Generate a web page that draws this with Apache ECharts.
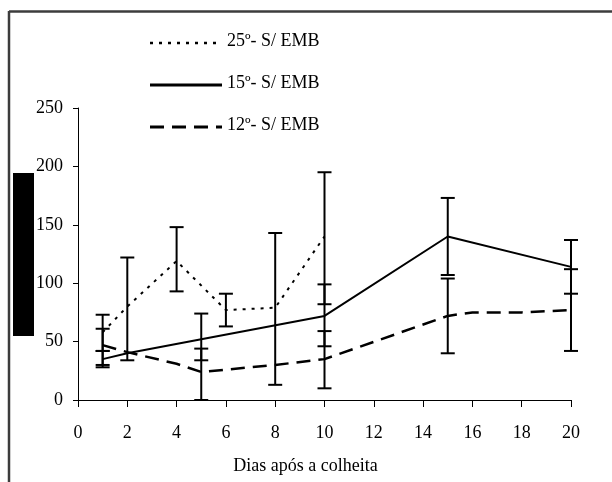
<!DOCTYPE html>
<html>
<head>
<meta charset="utf-8">
<script src="https://cdn.jsdelivr.net/npm/echarts@6/dist/echarts.min.js"></script>
<style>
html,body{margin:0;padding:0;background:#fff;}
#c{width:612px;height:482px;}
</style>
</head>
<body>
<div id="c"></div>
<script>
// ---- data ----
var xTicks = [0, 2, 4, 6, 8, 10, 12, 14, 16, 18, 20];
var yTicks = [0, 50, 100, 150, 200, 250];
var seriesNames = ['25º- S/ EMB', '15º- S/ EMB', '12º- S/ EMB'];

var days25 = [1, 2, 4, 6, 8, 10];
var vals25 = [58, 80, 119, 77, 79, 140];
var low25  = [42, 34, 93, 63, 13, 82];
var high25 = [73, 122, 148, 91, 143, 195];

var days15 = [1, 2, 5, 10, 15, 20];
var vals15 = [35, 40, 52, 72, 140, 114];
var err15Days = [1, 5, 10, 15, 20];
var low15  = [28, 34, 46, 107, 91];
var high15 = [42, 74, 99, 173, 137];

var days12 = [1, 2, 4, 5, 6, 8, 10, 15, 16, 18, 20];
var vals12 = [47, 41, 31, 24, 26, 30, 35, 72, 75, 75, 77];
var err12Days = [1, 5, 10, 15, 20];
var low12  = [30, 0, 10, 40, 42];
var high12 = [61, 44, 59, 104, 112];

// ---- build ----
function pairs(xs, ys) { return xs.map(function (x, i) { return [x, ys[i]]; }); }
function triples(xs, lo, hi) { return xs.map(function (x, i) { return [x, lo[i], hi[i]]; }); }

function errRender(params, api) {
  var x = api.value(0);
  var p1 = api.coord([x, api.value(1)]);
  var p2 = api.coord([x, api.value(2)]);
  var hw = 7;
  var st = { stroke: '#000', lineWidth: 2 };
  return {
    type: 'group',
    children: [
      { type: 'line', shape: { x1: p1[0], y1: p1[1], x2: p2[0], y2: p2[1] }, style: st },
      { type: 'line', shape: { x1: p1[0] - hw, y1: p1[1], x2: p1[0] + hw, y2: p1[1] }, style: st },
      { type: 'line', shape: { x1: p2[0] - hw, y1: p2[1], x2: p2[0] + hw, y2: p2[1] }, style: st }
    ]
  };
}

var font = 'Liberation Serif';
var fs = 18;
var dot = [3, 6], dash = [14, 8];
var styles = [dot, 'solid', dash];

var chart = echarts.init(document.getElementById('c'), null, { renderer: 'canvas' });

var legendGraphics = [];
var legendY = [43, 85, 127];
seriesNames.forEach(function (n, i) {
  legendGraphics.push({
    type: 'line', shape: { x1: 150, y1: legendY[i], x2: 222, y2: legendY[i] },
    style: { stroke: '#000', lineWidth: i === 0 ? 2.5 : 3, lineDash: i === 1 ? null : styles[i] }
  });
  legendGraphics.push({
    type: 'text', left: 227, top: legendY[i] - 11,
    style: { text: n, font: fs + 'px "' + font + '"', fill: '#000' }
  });
});

chart.setOption({
  animation: false,
  backgroundColor: '#fff',
  grid: { left: 78, right: 41, top: 108, bottom: 82 },
  xAxis: {
    type: 'value', min: 0, max: 20, interval: 2,
    name: 'Dias após a colheita', nameLocation: 'middle', nameGap: 57,
    nameTextStyle: { fontFamily: font, fontSize: fs, color: '#000', padding: [0, 38, 0, 0] },
    axisLine: { show: true, onZero: false, lineStyle: { color: '#000', width: 1 } },
    axisTick: { show: true, length: 7, lineStyle: { color: '#000' } },
    axisLabel: { fontFamily: font, fontSize: fs, color: '#000', margin: 24,
      formatter: function (v) { return xTicks.indexOf(v) >= 0 ? String(v) : ''; } },
    splitLine: { show: false }
  },
  yAxis: {
    type: 'value', min: 0, max: 250, interval: 50,
    axisLine: { show: true, lineStyle: { color: '#000', width: 1 } },
    axisTick: { show: true, length: 5, lineStyle: { color: '#000' } },
    axisLabel: { fontFamily: font, fontSize: fs, color: '#000', margin: 15,
      formatter: function (v) { return yTicks.indexOf(v) >= 0 ? String(v) : ''; } },
    splitLine: { show: false }
  },
  series: [
    { name: seriesNames[0], type: 'line', data: pairs(days25, vals25), symbol: 'none',
      lineStyle: { color: '#000', width: 2, type: dot } },
    { name: seriesNames[1], type: 'line', data: pairs(days15, vals15), symbol: 'none',
      lineStyle: { color: '#000', width: 2, type: 'solid' } },
    { name: seriesNames[2], type: 'line', data: pairs(days12, vals12), symbol: 'none',
      lineStyle: { color: '#000', width: 2.5, type: dash } },
    { type: 'custom', renderItem: errRender, data: triples(days25, low25, high25), z: 5 },
    { type: 'custom', renderItem: errRender, data: triples(err15Days, low15, high15), z: 5 },
    { type: 'custom', renderItem: errRender, data: triples(err12Days, low12, high12), z: 5 }
  ],
  graphic: [
    { type: 'line', shape: { x1: 9, y1: 11.5, x2: 612, y2: 11.5 }, style: { stroke: '#3c3c3c', lineWidth: 2.5 } },
    { type: 'line', shape: { x1: 9, y1: 11, x2: 9, y2: 482 }, style: { stroke: '#3c3c3c', lineWidth: 2.5 } },
    { type: 'rect', shape: { x: 13, y: 173, width: 21, height: 163 }, style: { fill: '#000' } }
  ].concat(legendGraphics)
});
</script>
</body>
</html>
